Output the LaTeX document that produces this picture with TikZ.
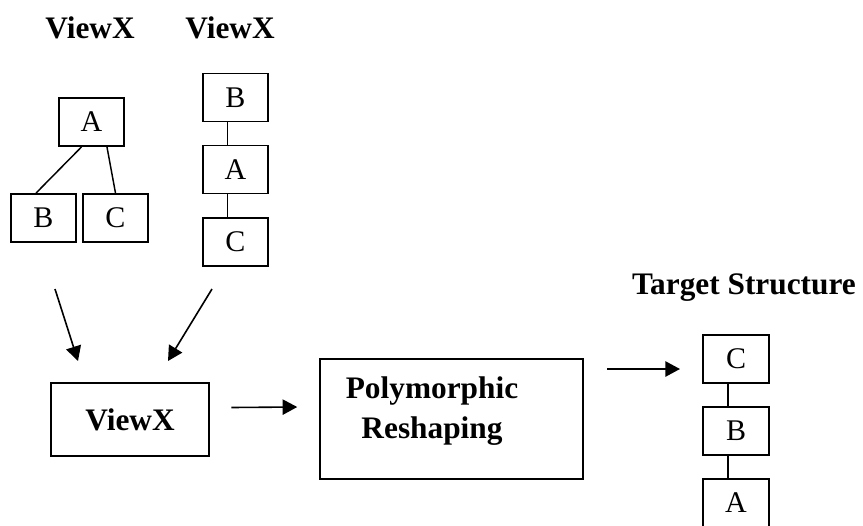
\documentclass[tikz,border=0pt]{standalone}
\usepackage{fontspec}
\setmainfont{Liberation Serif}
\usetikzlibrary{arrows.meta}
\begin{document}
\begin{tikzpicture}[x=0.75pt,y=-0.75pt,
  elem/.style={draw,line width=1.4pt,minimum width=49pt,minimum height=36pt,inner sep=0pt,font=\fontsize{22.5}{26}\selectfont},
  stage/.style={draw,line width=1.4pt,inner sep=0pt},
  title/.style={font=\fontsize{23.5}{28}\selectfont\bfseries,inner sep=0pt},
  link/.style={line width=1.1pt},
  flow/.style={line width=1.2pt,-{Triangle[length=11pt,width=11.5pt]}}]
\useasboundingbox (0,0) rectangle (863,525);
\clip (0,0) rectangle (863,525);

% source views
\node[title] (t1) at (90,28) {ViewX};
\node[title] (t2) at (230,28) {ViewX};

% first view: A over B and C
\node[elem] (la) at (91.5,122) {A};
\node[elem] (lb) at (43.5,218) {B};
\node[elem] (lc) at (115.5,218) {C};
\draw[link] ([xshift=-7.5pt]la.south) -- ([xshift=-5.6pt]lb.north);
\draw[link] ([xshift=11.6pt]la.south) -- (lc.north);

% second view: chain B - A - C
\node[elem] (rb) at (235.5,97.5) {B};
\node[elem] (ra) at (235.5,169.5) {A};
\node[elem] (rc) at (235.5,242) {C};
\draw[link] ([xshift=-6pt]rb.south) -- ([xshift=-6pt]ra.north);
\draw[link] ([xshift=-6pt]ra.south) -- ([xshift=-6pt]rc.north);

% merged view and reshaping
\coordinate (s1) at (55,289);
\coordinate (e1) at (78,361);
\coordinate (s2) at (212,289);
\coordinate (e2) at (168,361);
\draw[flow] (s1) -- (e1);
\draw[flow] (s2) -- (e2);

\node[stage,minimum width=118.5pt,minimum height=55pt,font=\fontsize{23.5}{28}\selectfont\bfseries] (vx) at (130,419.5) {ViewX};
\node[stage,minimum width=197pt,minimum height=90pt] (poly) at (451.5,419) {};
\node[font=\fontsize{23.5}{30}\selectfont\bfseries,align=center,inner sep=0pt] (polytext) at (432,411) {Polymorphic\\Reshaping};

\draw[flow] ([xshift=16pt,yshift=9pt]vx.east) -- ([xshift=-16.5pt,yshift=9pt]poly.west);

% target structure: chain C - B - A, the last box running off the page
\node[title] (tt) at (744,288) {Target Structure};
\node[elem] (tc) at (736,359) {C};
\node[elem] (tb) at (736,431) {B};
\node[elem] (ta) at (736,503) {A};
\draw[link] ([xshift=-6pt]tc.south) -- ([xshift=-6pt]tb.north);
\draw[link] ([xshift=-6pt]tb.south) -- ([xshift=-6pt]ta.north);

\coordinate (s3) at (607,369);
\coordinate (e3) at (680,369);
\draw[flow] (s3) -- (e3);
\end{tikzpicture}
\end{document}
